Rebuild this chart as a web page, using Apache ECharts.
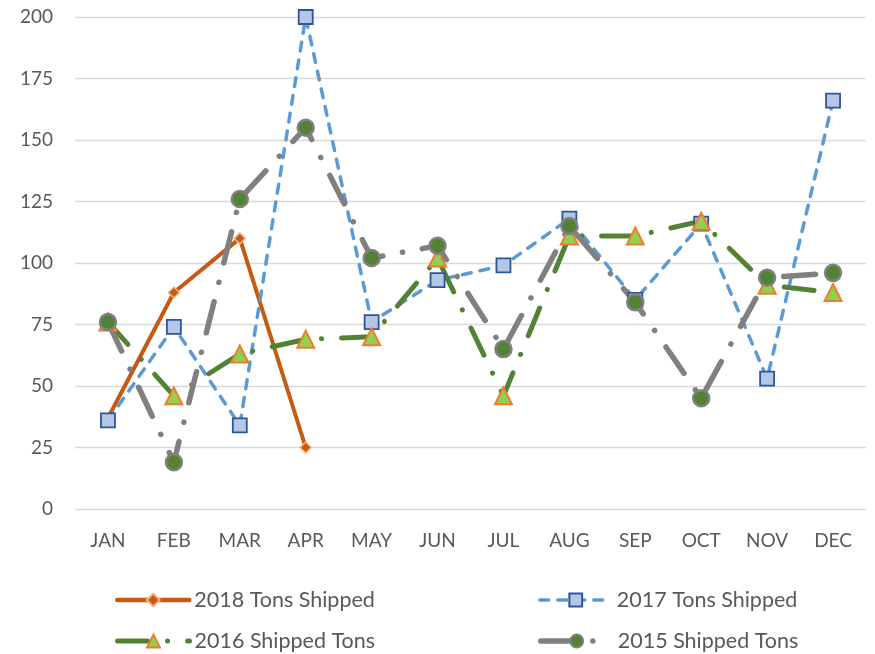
<!DOCTYPE html>
<html><head><meta charset="utf-8">
<script src="https://cdn.jsdelivr.net/npm/echarts@6/dist/echarts.min.js"></script>
<style>html,body{margin:0;padding:0;background:#fff}#c{width:875px;height:654px}</style>
</head><body><div id="c"></div>
<script>
const months = ['JAN','FEB','MAR','APR','MAY','JUN','JUL','AUG','SEP','OCT','NOV','DEC'];
const tons2018 = [37, 88, 110, 25, null, null, null, null, null, null, null, null];
const tons2017 = [36, 74, 34, 200, 76, 93, 99, 118, 85, 116, 53, 166];
const tons2016 = [76, 46, 63, 69, 70, 102, 46, 111, 111, 117, 91, 88];
const tons2015 = [76, 19, 126, 155, 102, 107, 65, 115, 84, 45, 94, 96];
const names = ['2018 Tons Shipped','2017 Tons Shipped','2016 Shipped Tons','2015 Shipped Tons'];

const FONT = 'Lato';
const chart = echarts.init(document.getElementById('c'));
const legendText = {fontFamily: FONT, fontSize: 21.5, color: '#595959'};
function leg(name, left, top, w){
  return {data:[name], left:left, top:top, itemWidth:72, itemHeight:16, itemGap:0,
    textStyle: legendText, padding:0, selectedMode:false,
    lineStyle:{width:w, cap:'round'}};
}
chart.setOption({
  animation:false,
  grid:{left:75, right:9, top:17, bottom:145},
  legend:[
    leg(names[0], 115, 589, 4.5),
    leg(names[1], 538, 589, 3.5),
    leg(names[2], 115, 630, 5),
    leg(names[3], 538, 630, 5.5)
  ],
  xAxis:{type:'category', data:months, boundaryGap:true,
    axisLine:{show:false}, axisTick:{show:false},
    axisLabel:{fontFamily:FONT, fontSize:19, color:'#595959', margin:22}},
  yAxis:{type:'value', min:0, max:200, interval:25,
    axisLine:{show:false}, axisTick:{show:false},
    splitLine:{lineStyle:{color:'#D9D9D9', width:1.3}},
    axisLabel:{fontFamily:FONT, fontSize:19, color:'#595959', margin:22}},
  series:[
    {name:names[0], type:'line', data:tons2018, connectNulls:false,
      lineStyle:{color:'#C55A11', width:4, cap:'round'},
      itemStyle:{color:'#C55A11', borderColor:'#F4B183', borderWidth:1.5},
      symbol:'diamond', symbolSize:11, showAllSymbol:true},
    {name:names[1], type:'line', data:tons2017,
      lineStyle:{color:'#5B9BD5', width:3.5, type:[9,9], cap:'round'},
      itemStyle:{color:'#B4C7E7', borderColor:'#2F5597', borderWidth:1.8},
      symbol:'rect', symbolSize:14, showAllSymbol:true},
    {name:names[2], type:'line', data:tons2016,
      lineStyle:{color:'#548235', width:5, type:[30,20,0.1,20], cap:'round'},
      itemStyle:{color:'#92D050', borderColor:'#ED7D31', borderWidth:2},
      symbol:'triangle', symbolSize:17, showAllSymbol:true},
    {name:names[3], type:'line', data:tons2015,
      lineStyle:{color:'#808080', width:5.5, type:[32,20,0.1,20], cap:'round'},
      itemStyle:{color:'#548235', borderColor:'#808080', borderWidth:2.5},
      symbol:'circle', symbolSize:16, showAllSymbol:true}
  ]
});
</script></body></html>
